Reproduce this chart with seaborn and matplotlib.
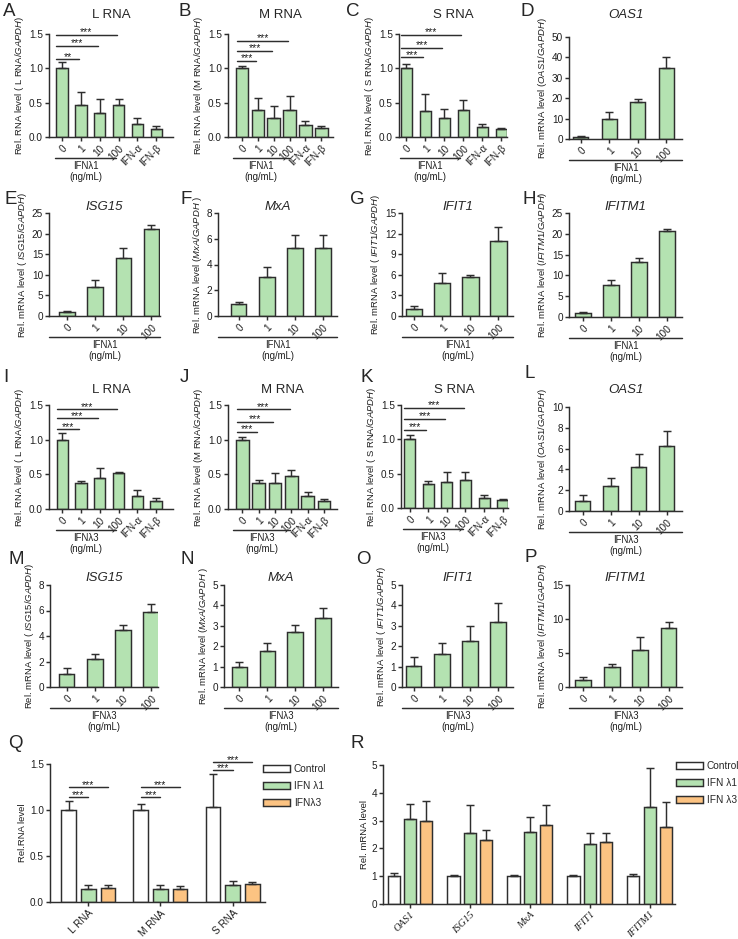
import numpy as np
import pandas as pd
import seaborn as sns
import matplotlib
matplotlib.use("Agg")
import matplotlib.pyplot as plt
from matplotlib.patches import Patch

##DATA:
doses = ["0", "1", "10", "100"]
rna_x = ["0", "1", "10", "100", "IFN-α", "IFN-β"]

a_mean = [1.0, 0.47, 0.35, 0.47, 0.19, 0.12]
a_sd = [0.09, 0.19, 0.20, 0.09, 0.08, 0.04]
b_mean = [1.0, 0.39, 0.28, 0.40, 0.18, 0.13]
b_sd = [0.04, 0.18, 0.17, 0.19, 0.06, 0.03]
c_mean = [1.0, 0.38, 0.28, 0.39, 0.15, 0.11]
c_sd = [0.07, 0.24, 0.13, 0.15, 0.04, 0.02]
d_mean = [1.0, 10.0, 18.0, 34.8]
d_sd = [0.5, 3.0, 1.5, 5.5]
e_mean = [1.0, 7.1, 14.0, 21.1]
e_sd = [0.2, 1.7, 2.6, 1.0]
f_mean = [0.95, 3.0, 5.3, 5.3]
f_sd = [0.1, 0.8, 1.0, 1.0]
g_mean = [1.0, 4.8, 5.7, 10.9]
g_sd = [0.5, 1.4, 0.2, 2.0]
h_mean = [1.0, 7.6, 13.3, 20.6]
h_sd = [0.15, 1.4, 0.9, 0.6]
i_mean = [1.0, 0.38, 0.44, 0.52, 0.19, 0.12]
i_sd = [0.09, 0.02, 0.15, 0.02, 0.08, 0.04]
j_mean = [1.0, 0.37, 0.38, 0.47, 0.19, 0.12]
j_sd = [0.04, 0.05, 0.14, 0.09, 0.05, 0.03]
k_mean = [1.0, 0.35, 0.38, 0.41, 0.15, 0.11]
k_sd = [0.07, 0.04, 0.15, 0.11, 0.04, 0.02]
l_mean = [1.0, 2.4, 4.2, 6.25]
l_sd = [0.55, 0.75, 1.25, 1.45]
m_mean = [1.05, 2.2, 4.45, 5.85]
m_sd = [0.45, 0.4, 0.45, 0.65]
n_mean = [1.0, 1.75, 2.7, 3.4]
n_sd = [0.25, 0.4, 0.35, 0.45]
o_mean = [1.05, 1.6, 2.25, 3.2]
o_sd = [0.4, 0.55, 0.75, 0.9]
p_mean = [1.0, 3.0, 5.4, 8.7]
p_sd = [0.4, 0.4, 1.9, 0.9]

# significance bars: (target bar, stars, height)
sig_a = [(1, "**", 1.13), (2, "***", 1.33), (3, "***", 1.49)]
sig_b = [(1, "***", 1.11), (2, "***", 1.25), (3, "***", 1.40)]
sig_c = [(1, "***", 1.16), (2, "***", 1.30), (3, "***", 1.49)]
sig_i = [(1, "***", 1.15), (2, "***", 1.31), (3, "***", 1.44)]
sig_j = [(1, "***", 1.11), (2, "***", 1.26), (3, "***", 1.44)]
sig_k = [(1, "***", 1.14), (2, "***", 1.30), (3, "***", 1.46)]

# panel Q / R
groups = ["Control", "IFN λ1", "IFNλ3"]
q_x = ["L RNA", "M RNA", "S RNA"]
q_mean = {"Control": [1.0, 1.0, 1.03], "IFN λ1": [0.14, 0.14, 0.19], "IFNλ3": [0.15, 0.14, 0.20]}
q_sd = {"Control": [0.10, 0.06, 0.36], "IFN λ1": [0.04, 0.05, 0.04], "IFNλ3": [0.03, 0.03, 0.02]}
sig_q = [(0, 1, "***", 1.14), (0, 2, "***", 1.25), (1, 1, "***", 1.14), (1, 2, "***", 1.25),
         (2, 1, "***", 1.435), (2, 2, "***", 1.52)]
r_x = ["OAS1", "ISG15", "MxA", "IFIT1", "IFITM1"]
r_mean = {"Control": [1.0, 1.0, 1.0, 1.0, 1.0], "IFN λ1": [3.05, 2.57, 2.6, 2.17, 3.5],
          "IFN λ3": [3.0, 2.3, 2.85, 2.22, 2.77]}
r_sd = {"Control": [0.1, 0.04, 0.03, 0.04, 0.08], "IFN λ1": [0.55, 1.0, 0.52, 0.38, 1.38],
        "IFN λ3": [0.7, 0.35, 0.72, 0.33, 0.91]}

##STYLE
sns.set_style("ticks")
plt.rcParams["font.family"] = ["Liberation Sans", "DejaVu Sans"]
plt.rcParams["mathtext.fontset"] = "custom"
plt.rcParams["mathtext.rm"] = "Liberation Sans"
plt.rcParams["mathtext.it"] = "Liberation Sans:italic"
GREEN = "#B4E2B1"
ORANGE = "#FCC382"
EDGE = "#2e2e2e"
TXT = "#1e1e1e"
LW = 1.05
W, H = 738, 939

fig = plt.figure(figsize=(W / 100, H / 100), dpi=100)


def px_axes(x0, x1, ytop, ybot):
    return fig.add_axes([x0 / W, 1 - ybot / H, (x1 - x0) / W, (ybot - ytop) / H])


def style_ax(ax, yticks, ylabel):
    ax.set_ylim(yticks[0], yticks[-1])
    ax.set_yticks(yticks)
    for s in ["top", "right"]:
        ax.spines[s].set_visible(False)
    for s in ["left", "bottom"]:
        ax.spines[s].set_color(EDGE)
        ax.spines[s].set_linewidth(LW)
    ax.tick_params(length=2.8, width=LW, color=EDGE, labelsize=7.2, pad=1.5, labelcolor=TXT)
    ax.set_xlabel("")
    ax.set_ylabel(ylabel, fontsize=6.8, labelpad=2, color=TXT)
    plt.setp(ax.get_xticklabels(), rotation=45, ha="right", rotation_mode="anchor")


def bar_panel(rect, labels, mean, sd, xlim, width, yticks, ylabel, treat, sig=None, line_span=None):
    ax = px_axes(*rect)
    df = pd.DataFrame({"dose": labels, "value": mean})
    sns.barplot(data=df, x="dose", y="value", ax=ax, color=GREEN, saturation=1,
                edgecolor=EDGE, linewidth=LW, width=width, errorbar=None)
    xs = np.arange(len(labels))
    ax.errorbar(xs, mean, yerr=[np.zeros(len(sd)), sd], fmt="none", ecolor=EDGE,
                elinewidth=LW, capsize=2.8, capthick=LW)
    ax.set_xlim(*xlim)
    style_ax(ax, yticks, ylabel)
    # treatment line + label under the dose ticks
    hpx = ax.bbox.height
    x0, x1 = line_span if line_span else xlim
    trans = ax.get_xaxis_transform()
    ax.plot([x0, x1], [-21 / hpx] * 2, transform=trans, color=EDGE, lw=LW, clip_on=False)
    ax.text((x0 + x1) / 2, -24 / hpx, treat + "\n(ng/mL)", transform=trans, ha="center",
            va="top", fontsize=6.9, linespacing=1.15, color=TXT)
    if sig:
        for tgt, stars, y in sig:
            ax.plot([-0.3, tgt - 0.1], [y, y], color=EDGE, lw=LW, clip_on=False)
            ax.text((tgt - 0.4) / 2, y - 0.035, stars, ha="center", va="bottom", fontsize=7.5,
                    color=TXT, clip_on=False)
    return ax


def lab(letter, x, y):
    fig.text(x / W, 1 - y / H, letter, fontsize=13.5, ha="left", va="center")


def title(rect, text, y, italic=False):
    fig.text((rect[0] + rect[1]) / 2 / W, 1 - y / H, text, fontsize=9.5, ha="center", va="center",
             style="italic" if italic else "normal")


rna_ticks = [0, 0.5, 1.0, 1.5]
span6 = (-0.35, 2.85)
lam1 = "IFNλ1"
lam3 = "IFNλ3"

##ROW 1
rA = (49, 173, 34, 137)
bar_panel(rA, rna_x, a_mean, a_sd, (-0.68, 5.88), 0.61, rna_ticks,
          r"Rel. RNA level ( L RNA/$\mathit{GAPDH}$)", lam1, sig_a, span6)
rB = (228, 333, 34, 137)
bar_panel(rB, rna_x, b_mean, b_sd, (-0.87, 5.73), 0.78, rna_ticks,
          r"Rel. RNA level (M RNA/$\mathit{GAPDH}$)", lam1, sig_b, (-0.55, 2.95))
rC = (399, 507, 34, 137)
bar_panel(rC, rna_x, c_mean, c_sd, (-0.39, 5.3), 0.6, rna_ticks,
          r"Rel. RNA level ( S RNA/$\mathit{GAPDH}$)", lam1, sig_c, span6)
rD = (569, 682, 37, 139)
bar_panel(rD, doses, d_mean, d_sd, (-0.41, 3.56), 0.53, [0, 10, 20, 30, 40, 50],
          r"Rel. mRNA level ($\mathit{OAS1/GAPDH}$)", lam1)

##ROW 2
rE = (49, 160, 213, 316)
bar_panel(rE, doses, e_mean, e_sd, (-0.64, 3.31), 0.54, [0, 5, 10, 15, 20, 25],
          r"Rel. mRNA level ( $\mathit{ISG15/GAPDH}$)", lam1)
rF = (218, 337, 213, 316)
bar_panel(rF, doses, f_mean, f_sd, (-0.73, 3.5), 0.56, [0, 2, 4, 6, 8],
          r"Rel. mRNA level ($\mathit{MxA/GAPDH}$ )", lam1)
rG = (402, 513, 213, 316)
bar_panel(rG, doses, g_mean, g_sd, (-0.44, 3.52), 0.58, [0, 3, 6, 9, 12, 15],
          r"Rel. mRNA level ( $\mathit{IFIT1/GAPDH}$)", lam1)
rH = (569, 682, 213, 317)
bar_panel(rH, doses, h_mean, h_sd, (-0.49, 3.54), 0.56, [0, 5, 10, 15, 20, 25],
          r"Rel. mRNA level ($\mathit{IFITM1/GAPDH}$)", lam1)

##ROW 3
rI = (49, 173, 405, 509)
bar_panel(rI, rna_x, i_mean, i_sd, (-0.7, 5.9), 0.6, rna_ticks,
          r"Rel. RNA level ( L RNA/$\mathit{GAPDH}$)", lam3, sig_i, span6)
rJ = (228, 337, 405, 509)
bar_panel(rJ, rna_x, j_mean, j_sd, (-0.87, 5.8), 0.78, rna_ticks,
          r"Rel. RNA level (M RNA/$\mathit{GAPDH}$)", lam3, sig_j, (-0.55, 2.95))
rK = (401, 508, 405, 508)
bar_panel(rK, rna_x, k_mean, k_sd, (-0.46, 5.28), 0.6, rna_ticks,
          r"Rel. RNA level ( S RNA/$\mathit{GAPDH}$)", lam3, sig_k, span6)
rL = (569, 682, 407, 511)
bar_panel(rL, doses, l_mean, l_sd, (-0.49, 3.54), 0.53, [0, 2, 4, 6, 8, 10],
          r"Rel. mRNA level ($\mathit{OAS1/GAPDH}$)", lam3)

##ROW 4
rM = (50, 158, 585, 687)
bar_panel(rM, doses, m_mean, m_sd, (-0.59, 3.24), 0.55, [0, 2, 4, 6, 8],
          r"Rel. mRNA level ( $\mathit{ISG15/GAPDH}$)", lam3)
rN = (224, 338, 585, 687)
bar_panel(rN, doses, n_mean, n_sd, (-0.55, 3.54), 0.55, [0, 1, 2, 3, 4, 5],
          r"Rel. mRNA level ($\mathit{MxA/GAPDH}$ )", lam3)
rO = (402, 513, 585, 687)
bar_panel(rO, doses, o_mean, o_sd, (-0.41, 3.53), 0.56, [0, 1, 2, 3, 4, 5],
          r"Rel. mRNA level ( $\mathit{IFIT1/GAPDH}$)", lam3)
rP = (569, 682, 585, 687)
bar_panel(rP, doses, p_mean, p_sd, (-0.5, 3.47), 0.55, [0, 5, 10, 15],
          r"Rel. mRNA level ($\mathit{IFITM1/GAPDH}$)", lam3)


##ROW 5 (grouped bars)
def grouped_panel(rect, cats, means, sds, xlim, yticks, ylabel, leg_xy):
    ax = px_axes(*rect)
    levels = list(means.keys())
    df = pd.DataFrame([(c, g, means[g][i]) for g in levels for i, c in enumerate(cats)],
                      columns=["cat", "grp", "value"])
    sns.barplot(data=df, x="cat", y="value", hue="grp", hue_order=levels, ax=ax,
                palette=["white", GREEN, ORANGE], saturation=1, edgecolor=EDGE,
                linewidth=LW, width=0.82, gap=0.26, errorbar=None, legend=False)
    centers = {}
    for g, cont in zip(levels, ax.containers):
        xs = [p.get_x() + p.get_width() / 2 for p in cont.patches]
        centers[g] = xs
        ax.errorbar(xs, means[g], yerr=[np.zeros(len(cats)), sds[g]], fmt="none",
                    ecolor=EDGE, elinewidth=LW, capsize=2.8, capthick=LW)
    ax.set_xlim(*xlim)
    style_ax(ax, yticks, ylabel)
    handles = [Patch(facecolor=c, edgecolor=EDGE, linewidth=LW, label=g)
               for g, c in zip(levels, ["white", GREEN, ORANGE])]
    ax.legend(handles=handles, loc="upper left", bbox_to_anchor=(leg_xy[0] / W, 1 - leg_xy[1] / H),
              bbox_transform=fig.transFigure, frameon=False, fontsize=7.3, handlelength=2.7,
              handleheight=0.75, labelspacing=0.7, handletextpad=0.35, borderaxespad=0,
              borderpad=0)
    return ax, centers


rQ = (50, 265, 764, 902)
axQ, cq = grouped_panel(rQ, q_x, q_mean, q_sd, (-0.53, 2.45), [0, 0.5, 1.0, 1.5],
                        "Rel.RNA level", (263, 764))
for gi, hi, stars, y in sig_q:
    x0 = cq[groups[0]][gi]
    x1 = cq[groups[hi]][gi]
    axQ.plot([x0, x1], [y, y], color=EDGE, lw=LW, clip_on=False)
    axQ.text((x0 + x1) / 2, y - 0.035, stars, ha="center", va="bottom", fontsize=7.5,
             color=TXT, clip_on=False)

rR = (383, 675, 765, 904)
axR, cr = grouped_panel(rR, r_x, r_mean, r_sd, (-0.45, 4.42), [0, 1, 2, 3, 4, 5],
                        "Rel. mRNA level", (676, 761))
for t in axR.get_xticklabels():
    t.set_family(["Liberation Serif", "DejaVu Serif"])
    t.set_style("italic")
    t.set_fontsize(7.5)

##LETTERS AND TITLES
for letter, x, y in [("A", 3, 11), ("B", 178, 11), ("C", 346, 11), ("D", 520, 11),
                     ("E", 4, 200), ("F", 180, 200), ("G", 350, 200), ("H", 523, 200),
                     ("I", 3, 377), ("J", 180, 377), ("K", 360, 377), ("L", 525, 374),
                     ("M", 8, 560), ("N", 180, 560), ("O", 356, 560), ("P", 525, 558),
                     ("Q", 8, 744), ("R", 350, 744)]:
    lab(letter, x, y)

title(rA, "L RNA", 15)
title(rB, "M RNA", 15)
title(rC, "S RNA", 15)
title(rD, "OAS1", 15, True)
title(rE, "ISG15", 207, True)
title(rF, "MxA", 207, True)
title(rG, "IFIT1", 207, True)
title(rH, "IFITM1", 207, True)
title(rI, "L RNA", 390)
title(rJ, "M RNA", 390)
title(rK, "S RNA", 390)
title(rL, "OAS1", 390, True)
title(rM, "ISG15", 578, True)
title(rN, "MxA", 578, True)
title(rO, "IFIT1", 578, True)
title(rP, "IFITM1", 578, True)

fig.savefig("out.png", dpi=100)
plt.close()
